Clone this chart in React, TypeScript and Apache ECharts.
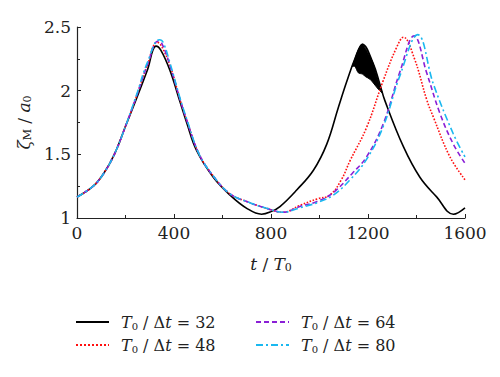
import React, { useEffect, useRef } from "react";
import * as echarts from "echarts";

// T0/Δt = 32 (black, solid)
const t32 = [0, 67, 110, 154, 200, 246, 290, 326, 345, 383, 425, 452, 493, 562, 631, 700, 761, 800, 837, 906, 975, 1030, 1078, 1112, 1146, 1177, 1222, 1249, 1270, 1346, 1414, 1483, 1552, 1600];
const v32 = [1.165, 1.25, 1.35, 1.5, 1.72, 1.94, 2.16, 2.35, 2.32, 2.16, 1.91, 1.75, 1.53, 1.32, 1.18, 1.076, 1.03, 1.05, 1.09, 1.22, 1.375, 1.58, 1.87, 2.07, 2.25, 2.365, 2.21, 2.05, 1.92, 1.56, 1.32, 1.166, 1.03, 1.08];
// black oscillation band near the second peak
const tBand = [1135, 1146, 1160, 1177, 1190, 1208, 1222, 1243, 1260];
const bandLow = [2.19, 2.19, 2.14, 2.13, 2.11, 2.09, 2.06, 2.01, 1.98];
const bandHigh = [2.19, 2.25, 2.32, 2.365, 2.33, 2.27, 2.21, 2.07, 1.98];

// T0/Δt = 48 (red, dotted)
const t48 = [0, 67, 110, 154, 200, 246, 290, 330, 345, 383, 425, 452, 504, 562, 631, 713, 782, 850, 920, 990, 1043, 1090, 1126, 1194, 1263, 1318, 1346, 1390, 1442, 1470, 1538, 1600];
const v48 = [1.165, 1.25, 1.35, 1.5, 1.72, 1.96, 2.2, 2.38, 2.36, 2.2, 1.93, 1.77, 1.5, 1.33, 1.19, 1.12, 1.076, 1.045, 1.1, 1.15, 1.18, 1.3, 1.45, 1.71, 2.08, 2.34, 2.42, 2.26, 1.93, 1.79, 1.48, 1.3];

// T0/Δt = 64 (purple, dashed)
const t64 = [0, 67, 110, 154, 200, 246, 290, 335, 350, 383, 425, 452, 504, 562, 631, 713, 782, 850, 919, 990, 1057, 1135, 1194, 1263, 1332, 1390, 1442, 1497, 1552, 1600];
const v64 = [1.165, 1.25, 1.35, 1.5, 1.72, 1.96, 2.2, 2.39, 2.37, 2.2, 1.93, 1.77, 1.5, 1.33, 1.19, 1.12, 1.076, 1.045, 1.09, 1.13, 1.2, 1.35, 1.48, 1.74, 2.15, 2.43, 2.14, 1.82, 1.58, 1.43];

// T0/Δt = 80 (cyan, dash-dot)
const t80 = [0, 67, 110, 154, 200, 246, 290, 340, 355, 383, 425, 452, 504, 562, 631, 713, 782, 850, 919, 990, 1057, 1126, 1194, 1263, 1332, 1405, 1470, 1552, 1600];
const v80 = [1.165, 1.25, 1.35, 1.5, 1.72, 1.97, 2.22, 2.4, 2.38, 2.22, 1.94, 1.78, 1.5, 1.33, 1.19, 1.12, 1.076, 1.045, 1.08, 1.12, 1.18, 1.3, 1.46, 1.72, 2.12, 2.44, 2.05, 1.66, 1.48];

const xTicks = [0, 400, 800, 1200, 1600];
const yTicks = [1, 1.5, 2, 2.5];

const zip = (a: number[], b: number[]) => a.map((x, i) => [x, b[i]]);

const SERIF = "DejaVu Serif";

const rich = {
  it: { fontFamily: SERIF, fontSize: 17, fontStyle: "italic", color: "#222" },
  sub: { fontFamily: SERIF, fontSize: 11, color: "#222", padding: [8, 0, 0, 0] },
  n: { fontFamily: SERIF, fontSize: 17, color: "#222" },
};

const legendRich = {
  sp: { width: 7 },
  it: { fontFamily: SERIF, fontSize: 16, fontStyle: "italic", color: "#222" },
  sub: { fontFamily: SERIF, fontSize: 10, color: "#222", padding: [8, 0, 0, 0] },
  n: { fontFamily: SERIF, fontSize: 16, color: "#222" },
};

const legendFormatter = (name: string) => `{sp|}{it|T}{sub|0}{n| / Δ}{it|t}{n| = ${name}}`;

const legendBase = {
  orient: "vertical",
  top: 309,
  itemWidth: 33,
  itemHeight: 12,
  itemGap: 6,
  formatter: legendFormatter,
  textStyle: { rich: legendRich },
  itemStyle: { opacity: 0 },
};

export default function App() {
  const ref = useRef<HTMLDivElement>(null);
  useEffect(() => {
    if (!ref.current) return;
    const chart = echarts.init(ref.current, null, { renderer: "svg" });
    chart.setOption({
      animation: false,
      backgroundColor: "#fff",
      textStyle: { fontFamily: SERIF },
      grid: { left: 77, right: 35, top: 27, bottom: 159 },
      xAxis: {
        type: "value",
        min: 0,
        max: 1600,
        interval: 400,
        name: "{it|t}{n| / }{it|T}{sub|0}",
        nameLocation: "middle",
        nameGap: 36,
        nameTextStyle: { rich },
        axisLine: { lineStyle: { color: "#222", width: 1.2 } },
        axisTick: { inside: true, length: 4, lineStyle: { color: "#222" } },
        minorTick: { show: true, splitNumber: 2, length: 3, lineStyle: { color: "#222" } },
        splitLine: { show: false },
        axisLabel: {
          fontFamily: SERIF,
          fontSize: 17,
          color: "#222",
          margin: 6,
          formatter: (v: number) => (xTicks.includes(v) ? String(v) : ""),
        },
      },
      yAxis: {
        type: "value",
        min: 1,
        max: 2.5,
        interval: 0.5,
        name: "{it|ζ}{sub|M}{n| / }{it|a}{sub|0}",
        nameLocation: "middle",
        nameRotate: 90,
        nameGap: 42,
        nameTextStyle: { rich },
        axisLine: { show: true, lineStyle: { color: "#222", width: 1.2 } },
        axisTick: { show: true, inside: true, length: 4, lineStyle: { color: "#222" } },
        minorTick: { show: true, splitNumber: 2, length: 3, lineStyle: { color: "#222" } },
        splitLine: { show: false },
        axisLabel: {
          fontFamily: SERIF,
          fontSize: 17,
          color: "#222",
          margin: 6,
          formatter: (v: number) => (yTicks.includes(v) ? String(v) : ""),
        },
      },
      legend: [
        { ...legendBase, data: ["32", "48"], left: 70 },
        { ...legendBase, data: ["64", "80"], left: 250 },
      ],
      series: [
        {
          name: "32",
          type: "line",
          data: zip(t32, v32),
          symbol: "none",
          smooth: 0.4,
          lineStyle: { color: "#000", width: 1.6, type: "solid" },
          itemStyle: { color: "#000" },
          z: 2,
        },
        {
          name: "band",
          type: "custom",
          data: tBand.map((t, i) => [t, bandLow[i], bandHigh[i]]),
          silent: true,
          z: 2,
          renderItem: (params: any, api: any) => {
            if (params.dataIndex !== 0) return null;
            const upper = tBand.map((t, i) => api.coord([t, bandHigh[i]]));
            const lower = tBand.map((t, i) => api.coord([t, bandLow[i]])).reverse();
            return {
              type: "polygon",
              shape: { points: upper.concat(lower), smooth: 0.3 },
              style: { fill: "#000", stroke: "#000", lineWidth: 1 },
            };
          },
        },
        {
          name: "48",
          type: "line",
          data: zip(t48, v48),
          symbol: "none",
          smooth: 0.4,
          lineStyle: { color: "#ff1010", width: 1.6, type: "dotted" },
          itemStyle: { color: "#ff1010" },
          z: 3,
        },
        {
          name: "64",
          type: "line",
          data: zip(t64, v64),
          symbol: "none",
          smooth: 0.4,
          lineStyle: { color: "#8a1fd6", width: 1.6, type: [5, 3] },
          itemStyle: { color: "#8a1fd6" },
          z: 4,
        },
        {
          name: "80",
          type: "line",
          data: zip(t80, v80),
          symbol: "none",
          smooth: 0.4,
          lineStyle: { color: "#1ab8f0", width: 1.6, type: [7, 3, 2, 3] },
          itemStyle: { color: "#1ab8f0" },
          z: 5,
        },
      ],
    });
    return () => chart.dispose();
  }, []);
  return <div ref={ref} style={{ width: 500, height: 377, margin: -8 }} />;
}
